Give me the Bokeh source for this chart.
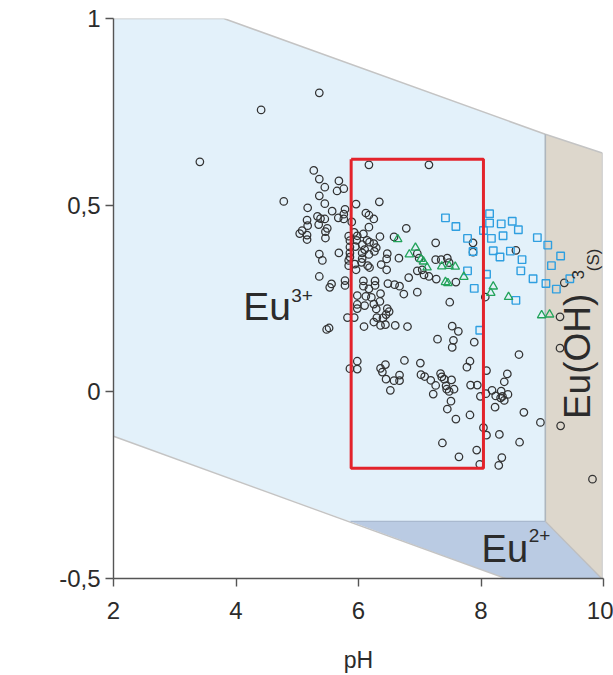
import math
from bokeh.plotting import figure
from bokeh.models import FixedTicker, Label
from bokeh.core.properties import value
from bokeh.embed import file_html
from bokeh.resources import INLINE

# ---- stability fields (pH, Eh in V) ----
eu3_ph = [2.0, 3.8, 9.05, 9.05, 5.87, 2.0]
eu3_eh = [1.0, 1.0, 0.69, -0.347, -0.347, -0.119]
eu2_ph = [5.87, 9.05, 9.97, 8.40]
eu2_eh = [-0.347, -0.347, -0.5, -0.5]
euoh_ph = [9.05, 9.98, 9.98, 9.05]
euoh_eh = [0.69, 0.64, -0.5, -0.347]

# ---- highlighted window ----
box_ph = [5.88, 8.04, 8.04, 5.88, 5.88]
box_eh = [0.623, 0.623, -0.205, -0.205, 0.623]

# ---- water samples: circles ----
circ_ph = [3.41, 4.41, 5.36, 6.17, 7.15, 9.82,
           5.27, 5.36, 5.45, 5.68, 5.65, 5.76, 5.36, 5.45, 4.78, 5.17, 5.57, 5.78,
           5.76, 5.67, 5.76, 5.33, 5.38, 5.45, 5.16, 5.17, 5.35, 5.49, 5.46, 5.08,
           5.04, 5.16, 5.16, 5.46, 5.36, 5.41, 5.68, 5.36, 5.56, 5.53, 5.78, 5.78,
           5.48, 5.52, 5.82, 5.86, 5.84, 5.84, 5.84, 5.86, 5.86, 5.86, 5.86, 5.89,
           5.96, 6.34, 6.12, 6.17, 6.25, 6.17, 5.93, 5.98, 6.08, 6.35, 5.97, 6.06,
           6.14, 6.18, 6.25, 6.29, 5.95, 6.10, 6.06, 6.17, 6.26, 6.06, 6.47, 6.46,
           5.94, 5.96, 6.05, 6.15, 6.18, 6.37, 6.46, 6.08, 6.08, 6.27, 6.27, 6.17,
           6.48, 6.59, 6.67, 5.98, 6.12, 6.21, 6.36, 6.35, 5.98, 5.98, 6.10, 6.25,
           6.29, 6.47, 6.50, 6.45, 6.74, 6.96, 5.93, 6.25, 6.30, 6.40, 6.36, 6.44,
           6.09, 6.60, 6.80, 7.29, 7.49, 7.53, 5.98, 5.98, 6.36, 6.39, 6.44, 6.45,
           6.75, 7.01, 6.67, 6.67, 6.58, 6.52, 7.02, 7.08, 7.18, 7.26, 7.34, 7.36,
           7.40, 7.52, 7.43, 7.44, 7.56, 7.48, 7.22, 7.45, 7.51, 7.37, 7.59, 7.27,
           6.82, 6.96, 7.04, 7.07, 7.15, 6.78, 6.58, 6.96, 6.99, 7.26, 7.35, 7.45,
           7.48, 6.66, 7.26, 7.59, 7.63, 7.55, 7.53, 7.89, 7.82, 7.77, 7.83, 7.94,
           8.09, 7.99, 8.08, 7.82, 8.04, 8.09, 7.93, 7.64, 7.98, 7.87, 7.87, 8.07,
           8.18, 8.24, 8.33, 8.35, 8.44, 8.38, 8.32, 8.23, 8.43, 8.38, 8.57, 8.62,
           8.70, 8.97, 9.29, 9.29, 9.30, 9.36, 8.30, 8.63, 8.34, 8.29]
circ_eh = [0.616, 0.755, 0.801, 0.608, 0.608, -0.234,
           0.593, 0.570, 0.548, 0.565, 0.538, 0.544, 0.525, 0.504, 0.510, 0.493, 0.484, 0.489,
           0.476, 0.466, 0.463, 0.470, 0.464, 0.463, 0.460, 0.445, 0.448, 0.438, 0.429, 0.432,
           0.424, 0.420, 0.408, 0.412, 0.369, 0.352, 0.372, 0.309, 0.289, 0.280, 0.298, 0.285,
           0.167, 0.171, 0.199, 0.062, 0.352, 0.338, 0.417, 0.405, 0.388, 0.372, 0.361, 0.455,
           0.503, 0.509, 0.479, 0.473, 0.463, 0.441, 0.427, 0.418, 0.423, 0.416, 0.406, 0.394,
           0.406, 0.401, 0.397, 0.386, 0.389, 0.381, 0.372, 0.368, 0.376, 0.357, 0.370, 0.356,
           0.342, 0.327, 0.347, 0.338, 0.333, 0.341, 0.327, 0.297, 0.283, 0.297, 0.285, 0.276,
           0.290, 0.287, 0.283, 0.258, 0.256, 0.253, 0.263, 0.242, 0.234, 0.223, 0.231, 0.235,
           0.222, 0.223, 0.215, 0.207, 0.262, 0.267, 0.199, 0.187, 0.199, 0.198, 0.178, 0.180,
           0.175, 0.178, 0.175, 0.141, 0.240, 0.176, 0.082, 0.061, 0.063, 0.053, 0.073, 0.034,
           0.084, 0.077, 0.045, 0.030, 0.030, 0.004, 0.046, 0.041, 0.031, 0.017, 0.049, 0.040,
           0.034, 0.032, 0.016, 0.007, 0.007, 0.001, -0.006, -0.046, -0.025, -0.137, -0.073, 0.302,
           0.306, 0.324, 0.327, 0.313, 0.309, 0.438, 0.415, 0.370, 0.358, 0.354, 0.354, 0.358,
           0.346, 0.358, 0.399, 0.294, 0.162, 0.138, 0.119, 0.133, 0.082, 0.066, 0.018, 0.018,
           0.057, -0.012, -0.005, -0.062, -0.096, -0.116, -0.156, -0.174, -0.194, 0.399, 0.374, 0.254,
           0.004, -0.011, 0.002, -0.012, -0.007, -0.023, -0.016, -0.041, 0.048, 0.027, 0.379, 0.100,
           -0.055, -0.082, 0.201, 0.117, -0.091, 0.292, -0.114, -0.135, -0.176, -0.197]

# ---- water samples: squares ----
sq_ph = [7.42, 7.59, 7.78, 7.87, 7.78, 7.89, 8.09, 8.04, 8.14, 8.14, 8.17, 8.20,
         8.31, 8.33, 8.36, 8.51, 8.61, 8.48, 8.67, 8.65, 8.92, 9.09, 9.30, 9.15,
         8.85, 9.06, 9.23, 9.45, 8.57, 7.98]
sq_eh = [0.466, 0.443, 0.411, 0.376, 0.324, 0.277, 0.315, 0.432, 0.477, 0.452, 0.411, 0.378,
         0.361, 0.450, 0.418, 0.457, 0.434, 0.377, 0.354, 0.324, 0.413, 0.393, 0.364, 0.338,
         0.303, 0.290, 0.275, 0.303, 0.245, 0.165]

# ---- water samples: triangles ----
tri_ph = [6.64, 6.93, 6.83, 7.02, 7.06, 7.12, 7.36, 7.48, 7.58, 7.42, 7.46, 7.72,
          8.20, 8.16, 8.45, 8.99, 9.12]
tri_eh = [0.409, 0.386, 0.368, 0.356, 0.349, 0.333, 0.336, 0.337, 0.335, 0.294, 0.291, 0.308,
          0.282, 0.265, 0.254, 0.205, 0.207]

x_ticks = [2, 4, 6, 8, 10]
y_ticks = [-0.5, 0, 0.5, 1]
y_tick_labels = {-0.5: "-0,5", 0: "0", 0.5: "0,5", 1: "1"}

FONT = "Liberation Sans"
INK = "#2b2b2b"

p = figure(width=613, height=675, x_range=(2, 10), y_range=(-0.5, 1),
           output_backend="svg", toolbar_location=None,
           min_border_left=113, min_border_right=10,
           min_border_top=18, min_border_bottom=95)
p.grid.visible = False
p.outline_line_color = None
p.background_fill_color = "white"

# fields
p.patch(eu3_ph, eu3_eh, fill_color="#e3f1fa", line_color=None)
p.patch(euoh_ph, euoh_eh, fill_color="#ddd7cc", line_color=None)
p.patch(eu2_ph, eu2_eh, fill_color="#bacbe3", line_color=None)

# field boundaries
p.line([eu3_ph[0], eu3_ph[1], eu3_ph[2], euoh_ph[1]],
       [eu3_eh[0], eu3_eh[1], eu3_eh[2], euoh_eh[1]], line_color="#c4c4c4", line_width=1.6)
p.line([eu3_ph[5], eu2_ph[3]], [eu3_eh[5], eu2_eh[3]], line_color="#c4c4c4", line_width=1.4)
p.line([eu3_ph[2], eu3_ph[3]], [eu3_eh[2], eu3_eh[3]], line_color="#aeb6bd", line_width=1.6)
p.line([eu2_ph[0], eu2_ph[1]], [eu2_eh[0], eu2_eh[1]], line_color="#a9b9cf", line_width=1.4)
p.line([eu2_ph[1], eu2_ph[2]], [eu2_eh[1], eu2_eh[2]], line_color="#bdbdbd", line_width=1.4)
p.line([euoh_ph[1], euoh_ph[2]], [euoh_eh[1], euoh_eh[2]], line_color="#cfcfcf", line_width=1.2)

# samples
p.scatter(circ_ph, circ_eh, marker="circle", size=7.5, fill_color=None,
          line_color="#333333", line_width=1.25)
p.scatter(sq_ph, sq_eh, marker="square", size=7.5, fill_color=None,
          line_color="#2f9fe0", line_width=1.4)
p.scatter(tri_ph, tri_eh, marker="triangle", size=8.5, fill_color=None,
          line_color="#22a35a", line_width=1.3)

# window
p.line(box_ph, box_eh, line_color="#e3232b", line_width=3)

# axes
for ax in (p.xaxis[0], p.yaxis[0]):
    ax.axis_line_color = "#555555"
    ax.axis_line_width = 1.4
    ax.major_tick_line_color = "#555555"
    ax.major_tick_line_width = 1.4
    ax.major_tick_out = 8
    ax.major_tick_in = 0
    ax.minor_tick_line_color = None
    ax.major_label_text_font = FONT
    ax.major_label_text_font_size = "24px"
    ax.major_label_text_color = INK

p.xaxis.ticker = FixedTicker(ticks=x_ticks)
p.yaxis.ticker = FixedTicker(ticks=y_ticks)
p.yaxis.major_label_overrides = y_tick_labels
p.xaxis.major_label_standoff = 15
p.yaxis.major_label_standoff = 5
p.xaxis.axis_label = "pH"
p.xaxis.axis_label_text_font = FONT
p.xaxis.axis_label_text_font_size = "23px"
p.xaxis.axis_label_text_font_style = "normal"
p.xaxis.axis_label_text_color = INK
p.xaxis.axis_label_standoff = 25

# y axis title
p.add_layout(Label(x=0.51, y=0.36, text="Eh (V)", angle=math.pi / 2,
                   text_align="center", text_baseline="middle",
                   text_font=FONT, text_font_size="23px", text_color=INK))

# field names
def lab(x, y, text, size, angle=0.0):
    p.text(x=[x], y=[y], text=[text], angle=angle, text_align="left",
           text_baseline="alphabetic", text_font=value(FONT),
           text_font_size=value(size), text_color=INK)

lab(4.12, 0.229, "Eu", "39px")
lab(4.90, 0.259, "3+", "19px")
lab(8.01, -0.421, "Eu", "38px")
lab(8.78, -0.384, "2+", "19px")
lab(9.577, -0.073, "Eu(OH)", "37px", math.pi / 2)
lab(9.577, 0.301, "3", "17px", math.pi / 2)
lab(9.838, 0.323, "(S)", "17px", math.pi / 2)

open("out.html", "w").write(file_html(p, INLINE))
